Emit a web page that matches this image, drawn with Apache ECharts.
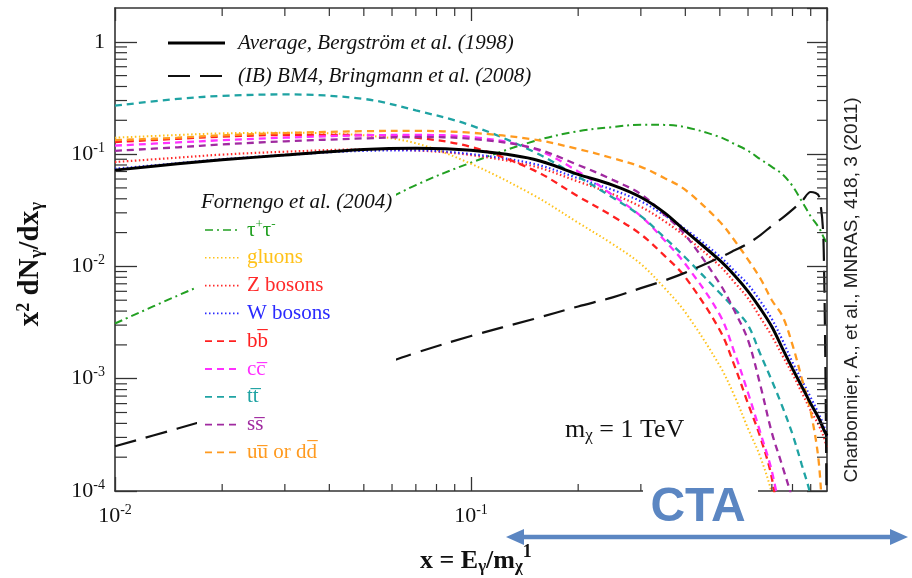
<!DOCTYPE html>
<html><head><meta charset="utf-8">
<script src="https://cdn.jsdelivr.net/npm/echarts@6/dist/echarts.min.js"></script>
<style>html,body{margin:0;padding:0;background:#fff}#c{width:912px;height:578px}</style>
</head><body><div id="c"></div>
<script>
// ---------------- data ----------------
const xs = [0.01, 0.015, 0.02, 0.03, 0.05, 0.07, 0.1, 0.15, 0.2, 0.25, 0.3, 0.35, 0.4, 0.5, 0.55, 0.6, 0.65, 0.7, 0.75, 0.8, 0.85, 0.9, 0.95, 0.98, 1.0];
const avgBergstrom = [0.072, 0.082, 0.089, 0.098, 0.110, 0.113, 0.108, 0.090, 0.066, 0.053, 0.0413, 0.030, 0.0207, 0.0113, 0.0083, 0.006, 0.0042, 0.0029, 0.00185, 0.00123, 0.00085, 0.0006, 0.00044, 0.00035, 0.00031];
const ibBM4 = [0.00025, 0.00036, 0.00047, 0.0007, 0.00118, 0.0017, 0.0024, 0.0034, 0.0044, 0.0053, 0.0064, 0.0075, 0.0088, 0.012, 0.0139, 0.016, 0.019, 0.023, 0.027, 0.032, 0.038, 0.046, 0.042, 0.012, 0.00001];
const tauTau = [0.0031, 0.0055, 0.0081, 0.0145, 0.031, 0.053, 0.084, 0.13, 0.16, 0.174, 0.183, 0.182, 0.174, 0.142, 0.123, 0.107, 0.09, 0.077, 0.066, 0.052, 0.038, 0.028, 0.022, 0.018, 0.016];
const gluons = [0.14, 0.148, 0.153, 0.155, 0.147, 0.125, 0.082, 0.043, 0.0245, 0.0158, 0.0105, 0.0064, 0.0039, 0.0013, 0.0007, 0.00036, 0.0002, 0.000095, 0.00003, null, null, null, null, null, null];
const zBosons = [0.085, 0.093, 0.099, 0.105, 0.110, 0.108, 0.098, 0.078, 0.057, 0.044, 0.034, 0.0252, 0.0185, 0.0101, 0.0072, 0.0052, 0.0035, 0.0024, 0.0016, 0.0011, 0.00075, 0.00052, 0.00038, 0.0003, 0.00024];
const wBosons = [0.074, 0.083, 0.090, 0.098, 0.107, 0.108, 0.100, 0.082, 0.061, 0.048, 0.038, 0.0285, 0.0215, 0.0123, 0.0091, 0.0069, 0.0049, 0.0034, 0.0022, 0.0014, 0.00097, 0.00068, 0.00048, 0.00038, 0.00031];
const bbbar = [0.128, 0.137, 0.143, 0.148, 0.148, 0.14, 0.116, 0.072, 0.042, 0.028, 0.0193, 0.0124, 0.008, 0.0027, 0.0013, 0.0006, 0.0003, 0.00013, 0.00003, null, null, null, null, null, null];
const ccbar = [0.119, 0.127, 0.133, 0.14, 0.147, 0.148, 0.142, 0.112, 0.070, 0.043, 0.028, 0.017, 0.0105, 0.0037, 0.0017, 0.00075, 0.00033, 0.00015, 0.00005, null, null, null, null, null, null];
const ttbar = [0.27, 0.31, 0.33, 0.34, 0.31, 0.245, 0.18, 0.105, 0.063, 0.041, 0.028, 0.018, 0.012, 0.0058, 0.0042, 0.003, 0.00165, 0.00096, 0.00056, 0.00032, 0.00017, 0.00009, 0.00003, null, null];
const ssbar = [0.107, 0.115, 0.122, 0.13, 0.138, 0.142, 0.137, 0.113, 0.08, 0.059, 0.044, 0.0288, 0.019, 0.007, 0.004, 0.0022, 0.00087, 0.00033, 0.000165, 0.00008, 0.00002, null, null, null, null];
const uubar = [0.133, 0.14, 0.147, 0.154, 0.16, 0.161, 0.155, 0.135, 0.111, 0.092, 0.077, 0.061, 0.048, 0.025, 0.017, 0.0115, 0.0078, 0.005, 0.0036, 0.002, 0.001, 0.00051, 0.00017, 0.00003, null];

const xRange = [0.01, 1];
const yRange = [0.0001, 2];
const topLegendNames = ['Average, Bergström et al. (1998)', '(IB) BM4, Bringmann et al. (2008)'];
const fornengoTitle = 'Fornengo et al. (2004)';
const fornengoNames = ['τ{s|+}τ{s|-}', 'gluons', 'Z bosons', 'W bosons', 'bb\u0305', 'cc\u0305', 'tt\u0305', 'ss\u0305', 'uu\u0305 or dd\u0305'];
const massLabel = 'm{b|χ} = 1 TeV';
const yName = 'x{s|2} dN{b|γ}/dx{b|γ}';
const xName = 'x = E{b|γ}/m{b|χ}{s|1}';
const citation = 'Charbonnier, A., et al., MNRAS, 418, 3 (2011)';
const ctaLabel = 'CTA';

// ---------------- styles ----------------
const serif = '"Liberation Serif", "DejaVu Serif", serif';
const sans = '"Liberation Sans", Arial, sans-serif';
const axisCol = '#333';
const fornengoStyles = [
  {ys: tauTau, color: '#22a022', width: 2, dash: [8, 4, 2, 4]},
  {ys: gluons, color: '#ffc21a', width: 2, dash: [1.5, 2.5]},
  {ys: zBosons, color: '#ff2a2a', width: 2.2, dash: [1.5, 2.5]},
  {ys: wBosons, color: '#2a2aff', width: 2.2, dash: [1.5, 2.5]},
  {ys: bbbar, color: '#ff2020', width: 2.3, dash: [7, 5]},
  {ys: ccbar, color: '#ff30ff', width: 2.3, dash: [7, 5]},
  {ys: ttbar, color: '#1fa3a3', width: 2.3, dash: [7, 5]},
  {ys: ssbar, color: '#a02aa0', width: 2.3, dash: [7, 5]},
  {ys: uubar, color: '#ff9a1f', width: 2.3, dash: [7, 5]}
];
const topStyles = [
  {ys: avgBergstrom, color: '#000', width: 3, dash: 'solid'},
  {ys: ibBM4, color: '#111', width: 2.2, dash: [22, 10]}
];

function pts(ys) {
  const out = [];
  xs.forEach((x, i) => { if (ys[i] != null) out.push([x, ys[i]]); });
  return out;
}
function mkSeries(name, st, z) {
  return {
    type: 'line', name, data: pts(st.ys), symbol: 'none', showSymbol: false,
    smooth: 0.35, clip: true, silent: true, z,
    lineStyle: {color: st.color, width: st.width, type: st.dash}
  };
}
function expLabel(v) {
  const e = Math.round(Math.log10(v));
  return e === 0 ? '1' : '10{s|' + e + '}';
}
const labRich = {s: {fontSize: 14, fontFamily: serif, color: '#111', padding: [0, 0, 12, 0]}};

const chart = echarts.init(document.getElementById('c'));
const series = [];
fornengoStyles.forEach((st, i) => series.push(mkSeries(fornengoNames[i], st, 2)));
series.push(mkSeries(topLegendNames[1], topStyles[1], 3));
series.push(mkSeries(topLegendNames[0], topStyles[0], 4));

const baseAxis = {
  type: 'log', logBase: 10,
  axisLine: {show: true, lineStyle: {color: axisCol, width: 1.6}},
  splitLine: {show: false}, minorTick: {show: false}, minorSplitLine: {show: false}
};
chart.setOption({
  animation: false,
  backgroundColor: '#fff',
  grid: {left: 115, right: 85, top: 8, bottom: 87},
  xAxis: [
    Object.assign({}, baseAxis, {min: xRange[0], max: xRange[1], position: 'bottom',
      axisTick: {inside: true, length: 14, lineStyle: {color: axisCol, width: 1.3}},
      axisLabel: {formatter: expLabel, showMaxLabel: false, margin: 12, fontFamily: serif, fontSize: 22, color: '#111', rich: labRich}}),
    Object.assign({}, baseAxis, {min: xRange[0], max: xRange[1], position: 'top',
      axisTick: {inside: true, length: 13, lineStyle: {color: axisCol, width: 1.3}},
      axisLabel: {show: false}})
  ],
  yAxis: [
    Object.assign({}, baseAxis, {min: yRange[0], max: yRange[1], position: 'left',
      axisTick: {inside: true, length: 22, lineStyle: {color: axisCol, width: 1.3}},
      axisLabel: {formatter: expLabel, showMaxLabel: false, margin: 10, fontFamily: serif, fontSize: 22, color: '#111', rich: labRich}}),
    Object.assign({}, baseAxis, {min: yRange[0], max: yRange[1], position: 'right',
      axisTick: {inside: true, length: 20, lineStyle: {color: axisCol, width: 1.3}},
      axisLabel: {show: false}})
  ],
  series
});

// ---------------- minor ticks (positions from the library's scales) ----------------
const g = [];
const px = v => chart.convertToPixel({xAxisIndex: 0}, v);
const py = v => chart.convertToPixel({yAxisIndex: 0}, v);
const xL = px(xRange[0]), xR = px(xRange[1]), yB = py(yRange[0]), yT = py(yRange[1]);
function tickLine(x1, y1, x2, y2) {
  g.push({type: 'line', z: 5, silent: true, shape: {x1, y1, x2, y2}, style: {stroke: axisCol, lineWidth: 1.2}});
}
for (let d = -2; d < 0; d++) for (let k = 2; k <= 9; k++) {
  const x = px(k * Math.pow(10, d));
  tickLine(x, yB, x, yB - 7);
  tickLine(x, yT, x, yT + 8);
}
for (let d = -4; d <= 0; d++) for (let k = 2; k <= 9; k++) {
  const v = k * Math.pow(10, d);
  if (v >= yRange[1]) continue;
  const y = py(v);
  tickLine(xL, y, xL + 12, y);
  tickLine(xR, y, xR - 10, y);
}

// ---------------- legends ----------------
const topLegY = [43, 76];
topStyles.forEach((st, i) => {
  g.push({type: 'line', z: 101, silent: true, shape: {x1: 168, y1: topLegY[i], x2: 225, y2: topLegY[i]},
    style: {stroke: st.color, lineWidth: st.width, lineDash: st.dash === 'solid' ? null : st.dash}});
  g.push({type: 'text', z: 101, silent: true, x: 238, y: topLegY[i],
    style: {text: topLegendNames[i], fontFamily: serif, fontStyle: 'italic', fontSize: 21, fill: '#111',
      align: 'left', verticalAlign: 'middle', textAlign: 'left', textVerticalAlign: 'middle'}});
});
// white backing of the Fornengo legend
g.push({type: 'rect', z: 100, silent: true, shape: {x: 197, y: 187, width: 199, height: 283}, style: {fill: '#fff'}});
g.push({type: 'text', z: 101, silent: true, x: 201, y: 202,
  style: {text: fornengoTitle, fontFamily: serif, fontStyle: 'italic', fontSize: 21, fill: '#111',
    align: 'left', verticalAlign: 'middle', textAlign: 'left', textVerticalAlign: 'middle'}});
fornengoStyles.forEach((st, i) => {
  const y = 230 + 27.8 * i;
  g.push({type: 'line', z: 101, silent: true, shape: {x1: 205, y1: y, x2: 240, y2: y},
    style: {stroke: st.color, lineWidth: st.width * 0.8, lineDash: st.dash}});
  g.push({type: 'text', z: 101, silent: true, x: 247, y: y,
    style: {text: fornengoNames[i], fontFamily: serif, fontSize: 21, fill: st.color,
      align: 'left', verticalAlign: 'middle', textAlign: 'left', textVerticalAlign: 'middle',
      rich: {s: {fontFamily: serif, fontSize: 13, fill: st.color, padding: [0, 0, 11, 0]}}}});
});

// ---------------- annotations ----------------
g.push({type: 'text', z: 101, silent: true, x: 565, y: 430,
  style: {text: massLabel, fontFamily: serif, fontSize: 26, fill: '#111', align: 'left', verticalAlign: 'middle', textAlign: 'left', textVerticalAlign: 'middle',
    rich: {b: {fontFamily: serif, fontSize: 17, fill: '#111', padding: [12, 0, 0, 0]}}}});
g.push({type: 'text', z: 101, silent: true, x: 31, y: 264, rotation: Math.PI / 2,
  style: {text: yName, fontFamily: serif, fontWeight: 'bold', fontSize: 29, fill: '#111', align: 'center', verticalAlign: 'middle', textAlign: 'center', textVerticalAlign: 'middle',
    rich: {s: {fontFamily: serif, fontWeight: 'bold', fontSize: 18, fill: '#111', padding: [0, 0, 14, 0]},
           b: {fontFamily: serif, fontWeight: 'bold', fontSize: 19, fill: '#111', padding: [12, 0, 0, 0]}}}});
g.push({type: 'text', z: 101, silent: true, x: 420, y: 561,
  style: {text: xName, fontFamily: serif, fontWeight: 'bold', fontSize: 26, fill: '#111', align: 'left', verticalAlign: 'middle', textAlign: 'left', textVerticalAlign: 'middle',
    rich: {s: {fontFamily: serif, fontWeight: 'bold', fontSize: 18, fill: '#111', padding: [0, 0, 18, 0]},
           b: {fontFamily: serif, fontWeight: 'bold', fontSize: 17, fill: '#111', padding: [12, 0, 0, 0]}}}});
g.push({type: 'text', z: 101, silent: true, x: 852, y: 290, rotation: Math.PI / 2,
  style: {text: citation, fontFamily: sans, fontSize: 19, fill: '#222', align: 'center', verticalAlign: 'middle', textAlign: 'center', textVerticalAlign: 'middle'}});
// CTA label with white backing over the axis
const ctaCol = '#5b86c2';
g.push({type: 'rect', z: 100, silent: true, shape: {x: 643, y: 478, width: 115, height: 52}, style: {fill: '#fff'}});
g.push({type: 'text', z: 101, silent: true, x: 698, y: 508,
  style: {text: ctaLabel, fontFamily: sans, fontWeight: 'bold', fontSize: 48, fill: ctaCol, align: 'center', verticalAlign: 'middle', textAlign: 'center', textVerticalAlign: 'middle'}});
// double-headed arrow
const ay = 537;
g.push({type: 'line', z: 101, silent: true, shape: {x1: 520, y1: ay, x2: 894, y2: ay}, style: {stroke: ctaCol, lineWidth: 4.5}});
g.push({type: 'polygon', z: 101, silent: true, shape: {points: [[506, ay], [524, ay - 8], [524, ay + 8]]}, style: {fill: ctaCol}});
g.push({type: 'polygon', z: 101, silent: true, shape: {points: [[908, ay], [890, ay - 8], [890, ay + 8]]}, style: {fill: ctaCol}});

chart.setOption({graphic: g});
</script>
</body></html>
